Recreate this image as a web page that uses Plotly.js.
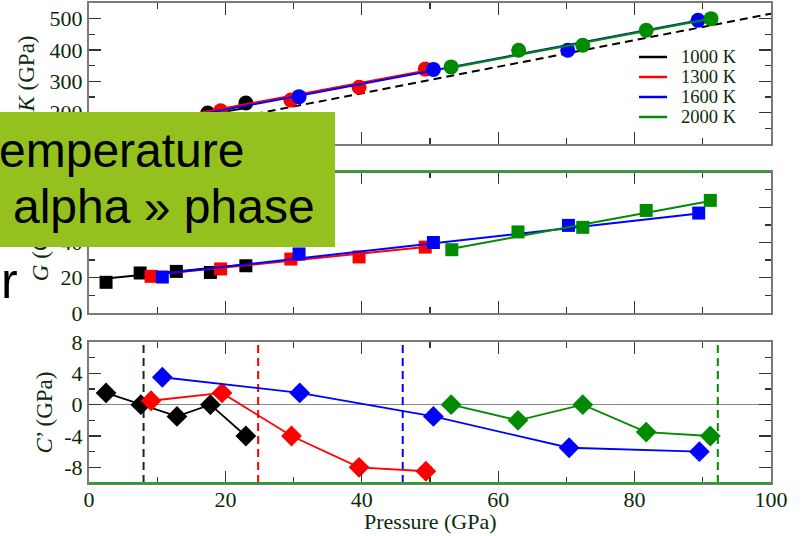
<!DOCTYPE html>
<html>
<head>
<meta charset="utf-8">
<script src="https://cdn.plot.ly/plotly-3.0.1.min.js"></script>
<style>
  html, body { margin: 0; padding: 0; background: #fff; overflow: hidden; }
  #wrap { position: relative; width: 808px; height: 536px; }
  #plot { position: absolute; left: 0; top: 0; width: 808px; height: 536px; }
  .slide { position: absolute; font-family: "Liberation Sans", Arial, sans-serif; color: #000; white-space: nowrap; }
  #box { position: absolute; left: 0; top: 112px; width: 335px; height: 135px; background: #95c11f; overflow: hidden; }
</style>
</head>
<body>
<div id="wrap">
  <div id="plot"></div>
  <div id="box">
    <div class="slide" style="left:-1px; top:15px; font-size:48px; line-height:48px;">emperature</div>
    <div class="slide" style="left:13px; top:71px; font-size:48px; line-height:48px;">alpha » phase</div>
  </div>
  <div class="slide" style="left:1px; top:256px; font-size:50px; line-height:50px;">r</div>
</div>
<script>
// ---------- data ----------
const temperatures = ['1000 K', '1300 K', '1600 K', '2000 K'];

// Bulk modulus K (GPa) vs pressure (GPa)
const pK1000 = [2.5, 7.5, 12.5, 17.4, 23.0];
const k1000  = [140, 160, 178, 199, 231];
const pK1300 = [9.1, 19.3, 29.6, 39.6, 49.3];
const k1300  = [170, 206, 240, 281, 339];
const pK1600 = [10.75, 30.8, 50.5, 70.2, 89.3];
const k1600  = [175, 251, 338, 399, 495];
const pK2000 = [53.1, 63.0, 72.4, 81.7, 91.2];
const k2000  = [346, 399, 415, 463, 500];

// fitted K lines (end points)
const fitPK1000 = [2.5, 23.0];   const fitK1000 = [140, 215];
const fitPK1300 = [9.1, 49.3];   const fitK1300 = [170, 334];
const fitPK1600 = [10.75, 89.3]; const fitK1600 = [172, 494];
const fitPK2000 = [53.1, 91.2];  const fitK2000 = [343, 500];

// reference (dashed) K line
const refP = [0, 100];
const refK = [92.5, 516];

// Shear modulus G (GPa)
const pG1000 = [2.5, 7.5, 12.8, 17.8, 23.0];
const g1000  = [17.4, 22.7, 23.6, 23.0, 26.8];
const pG1300 = [9.1, 19.3, 29.6, 39.6, 49.3];
const g1300  = [20.8, 25.0, 30.6, 31.8, 37.4];
const pG1600 = [10.75, 30.8, 50.5, 70.3, 89.4];
const g1600  = [20.4, 33.5, 40.0, 49.7, 56.7];
const pG2000 = [53.2, 62.9, 72.4, 81.7, 91.1];
const g2000  = [35.9, 46.0, 48.6, 58.2, 63.9];

// fitted G lines (end points)
const fitPG1000 = [2.5, 23.0];   const fitG1000 = [19.5, 27.5];
const fitPG1300 = [9.1, 49.3];   const fitG1300 = [21.5, 37.5];
const fitPG1600 = [10.75, 89.4]; const fitG1600 = [22.3, 56.4];
const fitPG2000 = [53.2, 91.1];  const fitG2000 = [36.5, 63.5];

// C' (GPa)
const pC1000 = [2.5, 7.6, 12.9, 17.8, 23.0];
const c1000  = [1.5, 0, -1.5, 0, -4];
const pC1300 = [9.1, 19.5, 29.7, 39.6, 49.4];
const c1300  = [0.5, 1.5, -4, -8, -8.5];
const pC1600 = [10.75, 30.9, 50.5, 70.4, 89.5];
const c1600  = [3.5, 1.5, -1.5, -5.5, -6];
const pC2000 = [53.1, 62.9, 72.4, 81.7, 91.1];
const c2000  = [0, -2, 0, -3.5, -4];

// transition pressures (vertical dashed lines)
const transitionP = [8.0, 24.8, 46.0, 92.2];
const cRange = [-10, 8];

// tick labels
const xTickVals = [0, 20, 40, 60, 80, 100];
const xTickText = ['0', '20', '40', '60', '80', '100'];
const kTickVals = [100, 200, 300, 400, 500];
const kTickText = ['100', '200', '300', '400', '500'];
const gTickVals = [0, 20, 40, 60, 80];
const gTickText = ['0', '20', '40', '60', '80'];
const cTickVals = [-8, -4, 0, 4, 8];
const cTickText = ['-8', '-4', '0', '4', '8'];

// ---------- styling ----------
const colors = ['#000000', '#ff0000', '#0000ff', '#008b00'];
const dashColors = ['#0e2e0e', '#ff0000', '#0000ff', '#008b00'];
const textColor = '#0b2a0b';
const serif = '"Liberation Serif", "Times New Roman", serif';

// page geometry (pixels)
const M = {l: 89, r: 37, t: 3, b: 53};
const W = 808, H = 536;
const PW = W - M.l - M.r, PH = H - M.t - M.b;
const px2x = px => (px - M.l) / PW;
const px2y = py => (H - M.b - py) / PH;

const kPts = [[pK1000, k1000], [pK1300, k1300], [pK1600, k1600], [pK2000, k2000]];
const kFits = [[fitPK1000, fitK1000], [fitPK1300, fitK1300], [fitPK1600, fitK1600], [fitPK2000, fitK2000]];
const gPts = [[pG1000, g1000], [pG1300, g1300], [pG1600, g1600], [pG2000, g2000]];
const gFits = [[fitPG1000, fitG1000], [fitPG1300, fitG1300], [fitPG1600, fitG1600], [fitPG2000, fitG2000]];
const cPts = [[pC1000, c1000], [pC1300, c1300], [pC1600, c1600], [pC2000, c2000]];

const traces = [];
traces.push({x: refP, y: refK, xaxis: 'x', yaxis: 'y', mode: 'lines', showlegend: false,
  line: {color: '#000', width: 2, dash: '8px,5px'}});

for (let i = 0; i < 4; i++) {
  traces.push({x: kFits[i][0], y: kFits[i][1], xaxis: 'x', yaxis: 'y', mode: 'lines',
    name: temperatures[i], showlegend: false, line: {color: colors[i], width: 2}});
  traces.push({x: kPts[i][0], y: kPts[i][1], xaxis: 'x', yaxis: 'y', mode: 'markers', showlegend: false,
    marker: {symbol: 'circle', size: 15, color: colors[i]}});
}
for (let i = 0; i < 4; i++) {
  traces.push({x: gFits[i][0], y: gFits[i][1], xaxis: 'x2', yaxis: 'y2', mode: 'lines', showlegend: false,
    line: {color: colors[i], width: 2}});
  traces.push({x: gPts[i][0], y: gPts[i][1], xaxis: 'x2', yaxis: 'y2', mode: 'markers', showlegend: false,
    marker: {symbol: 'square', size: 13, color: colors[i]}});
}
for (let i = 0; i < 4; i++) {
  traces.push({x: [transitionP[i], transitionP[i]], y: cRange, xaxis: 'x3', yaxis: 'y3', mode: 'lines',
    showlegend: false, line: {color: dashColors[i], width: 2, dash: '8px,5px'}});
}
for (let i = 0; i < 4; i++) {
  traces.push({x: cPts[i][0], y: cPts[i][1], xaxis: 'x3', yaxis: 'y3', mode: 'lines+markers', showlegend: false,
    line: {color: colors[i], width: 1.8},
    marker: {symbol: 'diamond', size: 16, color: colors[i]}});
}

const frame = '#7a7a7a';
function xAxis(anchor, labels) {
  return {
    anchor: anchor, range: [0, 100], tickvals: xTickVals, ticktext: xTickText,
    showticklabels: labels, ticks: 'inside', ticklen: 12, tickwidth: 1.3, tickcolor: '#333',
    minor: {dtick: 10, tick0: 0, ticks: 'inside', ticklen: 6, tickwidth: 1.3, tickcolor: '#333'},
    showline: true, linecolor: frame, linewidth: 2, mirror: 'allticks',
    showgrid: false, zeroline: false, ticklabelstandoff: -4,
    tickfont: {family: serif, size: 22, color: textColor}
  };
}
function yAxis(anchor, domain, range, tv, tt, minorD, title, standoff) {
  return {
    anchor: anchor, domain: domain, range: range, tickvals: tv, ticktext: tt,
    ticks: 'inside', ticklen: 12, tickwidth: 1.3, tickcolor: '#333',
    minor: {dtick: minorD, tick0: 0, ticks: 'inside', ticklen: 6, tickwidth: 1.3, tickcolor: '#333'},
    showline: true, linecolor: frame, linewidth: 2, mirror: 'allticks',
    showgrid: false, zeroline: false,
    tickfont: {family: serif, size: 22, color: textColor},
    title: {text: title, font: {family: serif, size: 23, color: textColor}, standoff: standoff}
  };
}

// custom legend (lines + labels) in the K panel
const legendRowsPx = [57, 77, 97, 117];
const shapes = [
  {type: 'line', xref: 'x2 domain', yref: 'y2 domain', x0: 0, x1: 1, y0: 1, y1: 1, line: {color: '#2aa02a', width: 2}},
  {type: 'line', xref: 'x3 domain', yref: 'y3 domain', x0: 0, x1: 1, y0: 0, y1: 0, line: {color: '#2aa02a', width: 2}}
];
const annotations = [
  {xref: 'paper', yref: 'paper', x: 0.5, y: px2y(521), xanchor: 'center', yanchor: 'middle', showarrow: false,
   text: 'Pressure (GPa)', font: {family: serif, size: 22, color: textColor}}
];
for (let i = 0; i < 4; i++) {
  shapes.push({type: 'line', xref: 'paper', yref: 'paper', x0: px2x(639), x1: px2x(667),
    y0: px2y(legendRowsPx[i]), y1: px2y(legendRowsPx[i]), line: {color: colors[i], width: 2.5}});
  annotations.push({xref: 'paper', yref: 'paper', x: px2x(679), y: px2y(legendRowsPx[i]),
    xanchor: 'left', yanchor: 'middle', showarrow: false, text: temperatures[i],
    font: {family: serif, size: 18.5, color: textColor}});
}

const layout = {
  width: W, height: H,
  margin: M,
  paper_bgcolor: '#fff', plot_bgcolor: '#fff',
  showlegend: false,
  xaxis: xAxis('y', false),
  yaxis: yAxis('x', [0.7063, 1], [100, 550], kTickVals, kTickText, 50, '<i>K</i> (GPa)', 9),
  xaxis2: xAxis('y2', false),
  yaxis2: yAxis('x2', [0.3542, 0.6479], [0, 80], gTickVals, gTickText, 10, '<i>G</i> (GPa)', 6),
  xaxis3: xAxis('y3', true),
  yaxis3: Object.assign(yAxis('x3', [0, 0.2938], cRange, cTickVals, cTickText, 2, '<i>C</i>’ (GPa)', 5),
    {zeroline: true, zerolinecolor: '#888', zerolinewidth: 1.5}),
  shapes: shapes,
  annotations: annotations
};

Plotly.newPlot('plot', traces, layout, {staticPlot: true, displayModeBar: false});
</script>
</body>
</html>
